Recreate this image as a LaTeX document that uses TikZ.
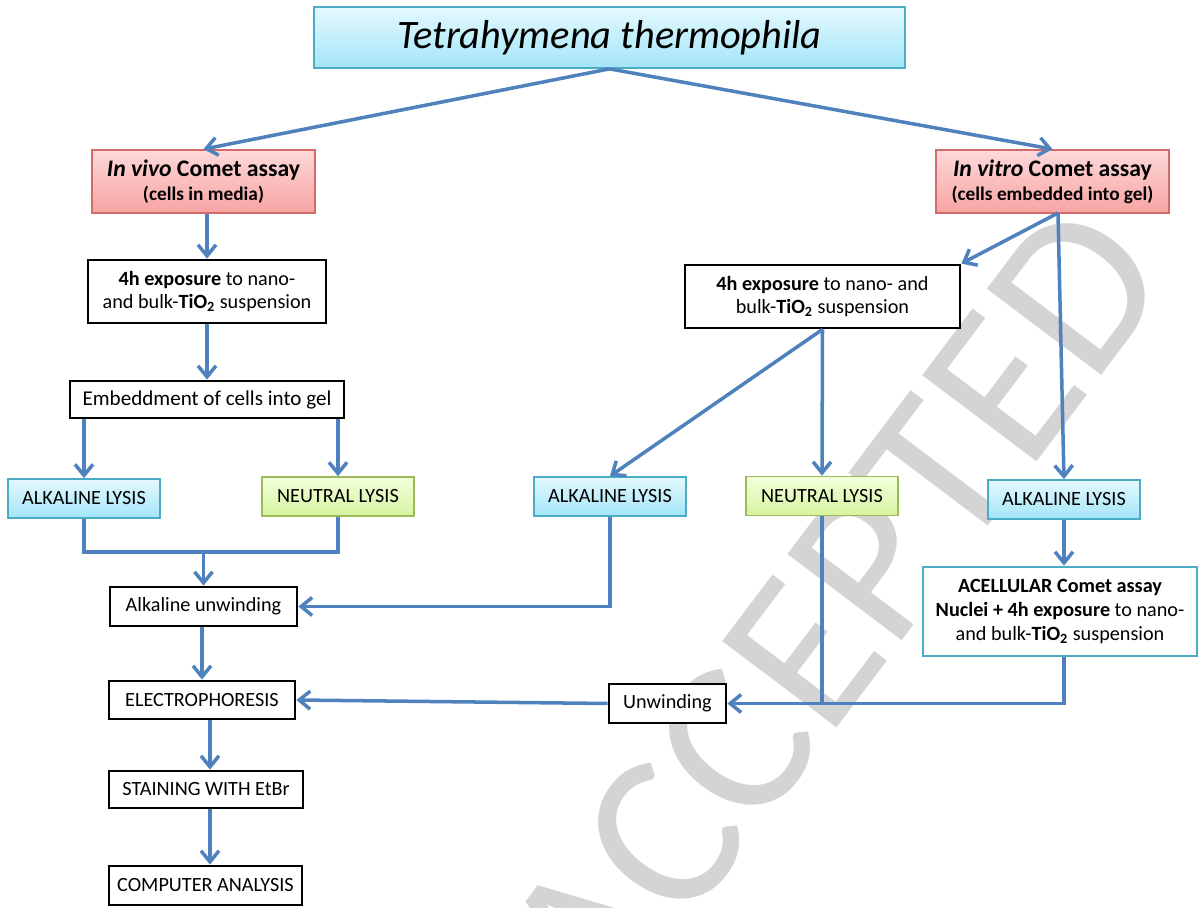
\documentclass[tikz,border=0pt]{standalone}
\usepackage{fontspec}
\setmainfont{Carlito}
\usepackage{tikz}
\usetikzlibrary{arrows.meta}
\definecolor{FlowBlue}{HTML}{4F81BD}
\definecolor{CyanLine}{HTML}{4BACC6}
\definecolor{CyanTop}{HTML}{E4F9FE}
\definecolor{CyanBot}{HTML}{A3E5F8}
\definecolor{GreenLine}{HTML}{9BBB59}
\definecolor{GreenTop}{HTML}{F3FFDC}
\definecolor{GreenBot}{HTML}{D6F3A0}
\definecolor{RedLine}{HTML}{D26B69}
\definecolor{RedTop}{HTML}{FDD9D9}
\definecolor{RedBot}{HTML}{F8A3A3}
\definecolor{MarkGray}{HTML}{D4D4D4}

\begin{document}
\begin{tikzpicture}[
    x=0.02cm, y=-0.02cm,
    font=\fontsize{11.5}{13.5}\selectfont,
    plainbox/.style={draw=black, line width=1.6pt, fill=white, align=center, inner sep=0pt},
    lysisA/.style={draw=CyanLine, line width=1pt, top color=CyanTop, bottom color=CyanBot, minimum width=3.04cm, minimum height=0.78cm, inner sep=0pt},
    lysisN/.style={draw=GreenLine, line width=1pt, top color=GreenTop, bottom color=GreenBot, minimum width=3.04cm, minimum height=0.78cm, inner sep=0pt},
    assay/.style={draw=RedLine, line width=1pt, top color=RedTop, bottom color=RedBot, minimum height=1.26cm, align=center, inner sep=0pt},
    flow/.style={-{Straight Barb[length=2.2mm,width=3.6mm]}, line width=2pt, FlowBlue},
    link/.style={line width=2pt, FlowBlue}
  ]
    \useasboundingbox (0,0) rectangle (1198,908);
    \begin{scope}
      \clip (0,0) rectangle (1198,908);
      \node[rotate=53, text=MarkGray, font=\fontsize{127}{127}\selectfont] (stamp) at (834,612) {ACCEPTED};
    \end{scope}

    \node[draw=CyanLine, line width=1pt, top color=CyanTop, bottom color=CyanBot, minimum width=11.82cm, minimum height=1.22cm, font=\fontsize{23}{28}\selectfont\itshape] (organism) at (609.5,37.5) {Tetrahymena thermophila};
    \node[assay, minimum width=4.46cm] (invivo) at (203.5,181.5) {{\fontsize{13.5}{16}\selectfont\textbf{\textit{In vivo} Comet assay}}\\{\fontsize{11}{13}\selectfont\textbf{(cells in media)}}};
    \node[assay, minimum width=4.66cm] (invitro) at (1052.5,181.5) {{\fontsize{13.5}{16}\selectfont\textbf{\textit{In vitro} Comet assay}}\\{\fontsize{11}{13}\selectfont\textbf{(cells embedded into gel)}}};
    \node[plainbox, minimum width=4.76cm, minimum height=1.26cm] (expoL) at (207,291.5) {\textbf{4h exposure} to nano-\\and bulk-\textbf{TiO\textsubscript{2}} suspension};
    \node[plainbox, minimum width=5.5cm, minimum height=1.26cm] (expoR) at (822.5,296.5) {\textbf{4h exposure} to nano- and\\bulk-\textbf{TiO\textsubscript{2}} suspension};
    \node[plainbox, minimum width=5.48cm, minimum height=0.74cm, font=\fontsize{12}{14}\selectfont] (embed) at (207,399.5) {Embeddment of cells into gel};
    \node[lysisA] (alkL) at (84,498.5) {ALKALINE LYSIS};
    \node[lysisN] (neuL) at (338,496.5) {NEUTRAL LYSIS};
    \node[lysisA] (alkM) at (610,496.5) {ALKALINE LYSIS};
    \node[lysisN] (neuM) at (822,496) {NEUTRAL LYSIS};
    \node[lysisA] (alkR) at (1064,499.5) {ALKALINE LYSIS};
    \node[draw=CyanLine, line width=1.6pt, fill=white, align=center, minimum width=5.48cm, minimum height=1.78cm, inner sep=0pt] (acell) at (1060,611.5) {\textbf{ACELLULAR Comet assay}\\\textbf{Nuclei + 4h exposure} to nano-\\and bulk-\textbf{TiO\textsubscript{2}} suspension};
    \node[plainbox, minimum width=3.74cm, minimum height=0.78cm] (alkunw) at (203.5,606.5) {Alkaline unwinding};
    \node[plainbox, minimum width=3.72cm, minimum height=0.76cm] (electro) at (202,700) {ELECTROPHORESIS};
    \node[plainbox, minimum width=2.34cm, minimum height=0.78cm] (unwind) at (667.5,703.5) {Unwinding};
    \node[plainbox, minimum width=3.88cm, minimum height=0.74cm] (stain) at (206,789.5) {STAINING WITH EtBr};
    \node[plainbox, minimum width=3.86cm, minimum height=0.78cm] (analysis) at (205.5,885.5) {COMPUTER ANALYSIS};

    \coordinate (joinL) at (203.5,552);
    \coordinate (vitroOut) at (1058,213);

    \draw[flow] (organism.south) -- (invivo.north);
    \draw[flow] (organism.south) -- (invitro.north);
    \draw[flow] (expoL.north |- invivo.south) -- (expoL.north);
    \draw[flow] (expoL.south) -- (embed.north);
    \draw[flow] (embed.south -| alkL.north) -- (alkL.north);
    \draw[flow] (embed.south -| neuL.north) -- (neuL.north);
    \draw[link] (alkL.south) |- (joinL) -| (neuL.south);
    \draw[flow] (joinL) -- (alkunw.north);
    \draw[flow] (alkM.south) |- (alkunw.east);
    \draw[flow] (vitroOut) -- (expoR.north east);
    \draw[flow] (vitroOut) -- (alkR.north);
    \draw[flow] (expoR.south) -- (alkM.north);
    \draw[flow] (expoR.south) -- (neuM.north);
    \draw[flow] (alkR.south) -- (alkR.south |- acell.north);
    \draw[link] (neuM.south) -- (neuM.south |- unwind.east);
    \draw[flow] (acell.south -| alkR.south) |- (unwind.east);
    \draw[flow] (unwind.west) -- (electro.east);
    \draw[flow] (alkunw.south -| electro.north) -- (electro.north);
    \draw[flow] (electro.south -| 210,0) -- (stain.north -| 210,0);
    \draw[flow] (stain.south -| 210,0) -- (analysis.north -| 210,0);
  \end{tikzpicture}
\end{document}
